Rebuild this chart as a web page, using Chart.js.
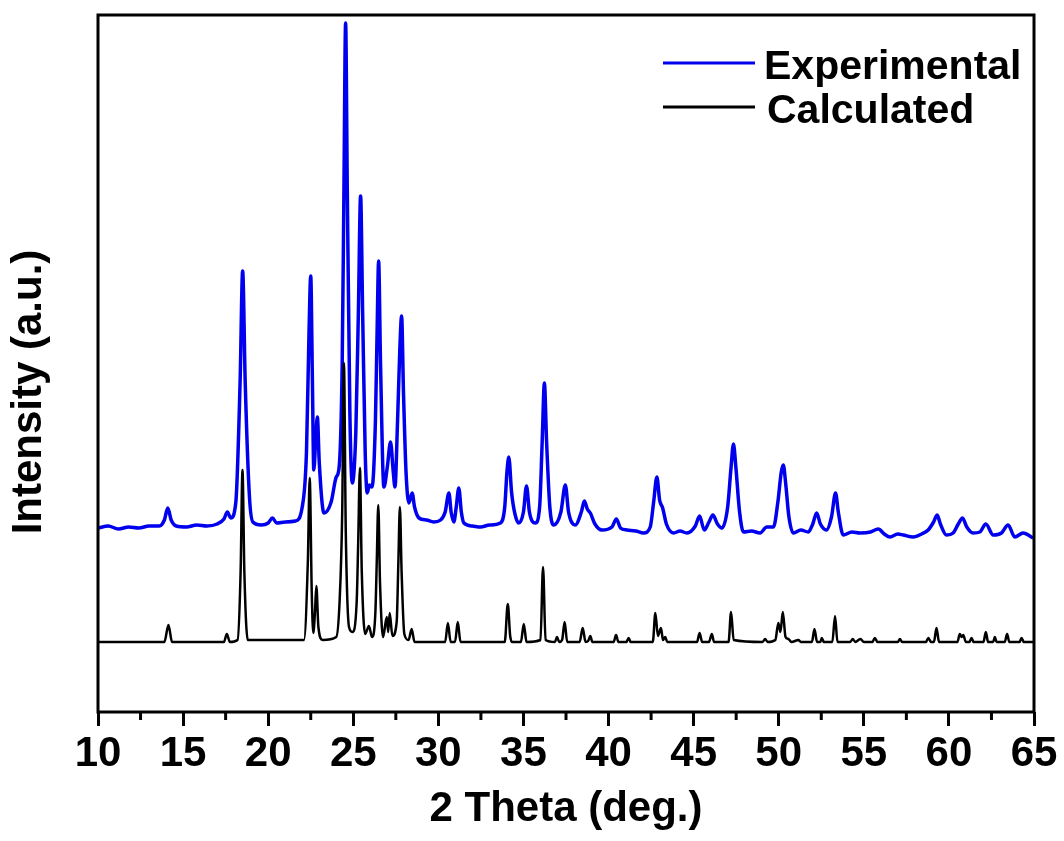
<!DOCTYPE html>
<html>
<head>
<meta charset="utf-8">
<script src="https://cdn.jsdelivr.net/npm/chart.js@4.4.1/dist/chart.umd.min.js"></script>
<style>
  html, body { margin: 0; padding: 0; background: #ffffff; }
  #wrap { width: 1064px; height: 841px; }
</style>
</head>
<body>
<div id="wrap"><canvas id="c" width="1064" height="841"></canvas></div>
<script>
// ---- Data (2θ in degrees, intensity in arbitrary units) ----
const seriesLabels = ['Experimental', 'Calculated'];

const expTheta = [
  10.0, 10.6, 11.2, 11.8, 12.4, 13.0, 13.6, 13.9, 14.1, 14.3, 14.6, 15.2, 15.8, 16.4, 17.0, 17.4, 17.6, 17.8,
  18.1, 18.35, 18.5, 18.65, 18.9, 19.1, 19.6, 20.0, 20.25, 20.5, 21.0, 21.6, 22.0, 22.25, 22.4, 22.5, 22.6,
  22.68, 22.8, 22.89, 23.0, 23.28, 23.7, 24.0, 24.17, 24.35, 24.45, 24.55, 24.65, 24.8, 24.94, 25.15, 25.3,
  25.43, 25.55, 25.7, 25.82, 25.95, 26.1, 26.3, 26.4, 26.49, 26.6, 26.8, 27.0, 27.19, 27.35, 27.45, 27.6,
  27.73, 27.84, 27.95, 28.1, 28.27, 28.46, 28.6, 28.86, 29.3, 29.72, 30.13, 30.4, 30.62, 30.75, 30.91, 31.05,
  31.2, 31.35, 31.5, 32.0, 32.48, 33.0, 33.65, 33.9, 34.03, 34.14, 34.3, 34.5, 34.72, 35.0, 35.18, 35.35,
  35.7, 35.95, 36.1, 36.23, 36.36, 36.55, 36.78, 37.2, 37.46, 37.65, 38.05, 38.4, 38.58, 38.75, 38.93, 39.2,
  39.61, 40.2, 40.46, 40.7, 41.08, 41.6, 42.06, 42.45, 42.65, 42.84, 43.0, 43.18, 43.4, 43.82, 44.2, 44.6,
  45.1, 45.35, 45.62, 45.9, 46.13, 46.4, 46.66, 47.0, 47.2, 47.34, 47.48, 47.7, 47.93, 48.4, 48.9, 49.3,
  49.69, 49.95, 50.15, 50.27, 50.4, 50.6, 50.86, 51.3, 51.74, 52.0, 52.23, 52.45, 52.81, 53.1, 53.34, 53.5,
  53.79, 54.3, 54.77, 55.4, 55.85, 56.2, 56.54, 57.0, 57.32, 57.9, 58.4, 58.78, 59.1, 59.31, 59.5, 59.86,
  60.25, 60.55, 60.8, 61.05, 61.42, 61.82, 62.17, 62.6, 63.09, 63.48, 63.87, 64.36, 64.95
];
const expIntensity = [
  184, 186, 183, 185, 184, 186, 186, 192, 204, 192, 186, 185, 187, 186, 188, 193, 200, 194,
  210, 330, 441, 330, 215, 190, 187, 189, 194, 189, 190, 191, 205, 260, 380, 436, 330,
  242, 275, 295, 250, 199, 210, 235, 245, 350, 520, 689, 520, 300, 229, 280, 400,
  516, 400, 260, 219, 227, 225, 290, 380, 451, 350, 225, 245, 270, 240, 225, 290,
  360, 396, 320, 240, 209, 219, 205, 194, 192, 190, 192, 200, 219, 200, 190, 205,
  224, 200, 189, 186, 185, 187, 189, 205, 240, 255, 220, 198, 189, 200, 226, 200,
  189, 205, 270, 329, 270, 205, 187, 200, 227, 200, 187, 200, 211, 203, 199, 188,
  182, 185, 193, 184, 182, 181, 179, 185, 210, 235, 212, 204, 188, 179, 181, 179,
  186, 196, 182, 190, 197, 188, 184, 205, 245, 268, 245, 200, 180, 181, 179, 185,
  185, 210, 240, 247, 230, 195, 179, 182, 180, 188, 199, 188, 182, 195, 219, 200,
  177, 180, 179, 180, 183, 178, 175, 178, 177, 175, 178, 182, 190, 197, 188, 177,
  179, 188, 194, 185, 179, 180, 188, 177, 179, 187, 175, 179, 174
];

const calcTheta = [
  10.0, 13.9, 14.14, 14.35, 17.4, 17.57, 17.75, 18.2, 18.38, 18.49, 18.6, 18.8, 22.1, 22.33, 22.44, 22.56,
  22.65, 22.75, 22.83, 22.95, 23.2, 24.0, 24.2, 24.35, 24.45, 24.56, 24.75, 24.95, 25.2, 25.29, 25.39, 25.5,
  25.7, 25.92, 26.1, 26.3, 26.38, 26.47, 26.57, 26.75, 26.97, 27.05, 27.14, 27.3, 27.55, 27.65, 27.74, 27.84,
  28.0, 28.25, 28.43, 28.6, 30.4, 30.56, 30.72, 30.98, 31.14, 31.3, 33.9, 34.08, 34.22, 34.35, 34.85, 35.02,
  35.18, 36.0, 36.15, 36.3, 36.85, 36.97, 37.1, 37.27, 37.42, 37.57, 38.3, 38.48, 38.65, 38.8, 38.93, 39.05,
  40.3, 40.44, 40.58, 41.05, 41.18, 41.3, 42.6, 42.75, 42.9, 43.08, 43.2, 43.33, 43.45, 45.2, 45.35, 45.5,
  45.9, 46.07, 46.2, 47.05, 47.2, 47.35, 49.05, 49.2, 49.35, 49.8, 49.98, 50.1, 50.24, 50.4, 50.57, 50.75,
  51.16, 51.3, 51.95, 52.1, 52.25, 52.45, 52.53, 52.65, 53.15, 53.31, 53.45, 54.2, 54.35, 54.5, 54.8, 55.0,
  55.5, 55.65, 55.8, 57.0, 57.12, 57.25, 58.65, 58.79, 58.95, 59.12, 59.27, 59.42, 60.5, 60.64, 60.75, 60.84,
  61.0, 61.2, 61.33, 61.45, 62.03, 62.17, 62.3, 62.6, 62.7, 62.8, 63.28, 63.42, 63.55, 64.15, 64.27, 64.4, 65.0
];
const calcIntensity = [
  70, 70, 87, 70, 70, 78, 70, 72, 140, 242, 140, 72, 72, 150, 234, 120,
  79, 100, 126, 85, 72, 75, 112, 200, 349, 180, 85, 80, 110, 170, 244, 140,
  78, 86, 75, 100, 150, 207, 130, 75, 95, 80, 99, 76, 90, 150, 205, 140,
  78, 72, 83, 70, 70, 89, 70, 70, 90, 70, 70, 108, 76, 70, 70, 88,
  70, 72, 145, 72, 70, 75, 70, 72, 90, 70, 70, 84, 70, 71, 76, 70,
  70, 77, 70, 70, 74, 70, 70, 99, 76, 84, 72, 75, 70, 70, 79, 70,
  70, 78, 70, 70, 100, 72, 70, 73, 70, 72, 89, 80, 100, 75, 73, 70,
  72, 70, 70, 83, 70, 70, 74, 70, 70, 96, 70, 70, 73, 70, 73, 70,
  70, 74, 70, 70, 73, 70, 70, 74, 70, 70, 84, 70, 70, 78, 75, 77,
  70, 70, 74, 70, 70, 80, 70, 70, 75, 70, 70, 78, 70, 70, 74, 70, 70
];

const xTickMin = 10, xTickMax = 65, xTickStep = 5, xMinorStep = 2.5;
const yRange = [0, 697];
const xTitle = '2 Theta (deg.)';
const yTitle = 'Intensity (a.u.)';
const seriesColors = ['#0000ee', '#000000'];

// ---- Chart ----
const FONT = '"Liberation Sans", Arial, Helvetica, sans-serif';

function toPoints(xs, ys) { return xs.map((x, i) => ({ x: x, y: ys[i] })); }

const framePlugin = {
  id: 'frameAndDecor',
  afterDraw(chart) {
    const { ctx, chartArea: a, scales } = chart;
    const xs = scales.x;
    ctx.save();
    // minor ticks
    ctx.strokeStyle = '#000';
    ctx.lineWidth = 3;
    ctx.beginPath();
    for (let v = xTickMin + xMinorStep; v < xTickMax; v += xTickStep) {
      const px = xs.getPixelForValue(v);
      ctx.moveTo(px, a.bottom);
      ctx.lineTo(px, a.bottom + 8);
    }
    ctx.stroke();
    // frame
    ctx.lineWidth = 3;
    ctx.strokeRect(a.left, a.top, a.right - a.left, a.bottom - a.top);
    // y title
    ctx.fillStyle = '#000';
    ctx.font = 'bold 42px ' + FONT;
    ctx.textAlign = 'center';
    ctx.textBaseline = 'middle';
    ctx.translate(29.5, 392);
    ctx.rotate(-Math.PI / 2);
    ctx.fillText(yTitle, 0, 0);
    ctx.restore();

    // legend (vertical list, top right)
    ctx.save();
    ctx.font = 'bold 41px ' + FONT;
    ctx.textAlign = 'left';
    ctx.textBaseline = 'alphabetic';
    const rows = [
      { lineY: 63, textX: 764, baseY: 79 },
      { lineY: 107, textX: 767, baseY: 123 }
    ];
    chart.data.datasets.forEach((ds, i) => {
      const r = rows[i];
      ctx.strokeStyle = ds.borderColor;
      ctx.lineWidth = 3;
      ctx.beginPath();
      ctx.moveTo(663, r.lineY);
      ctx.lineTo(755, r.lineY);
      ctx.stroke();
      ctx.fillStyle = '#000';
      ctx.fillText(ds.label, r.textX, r.baseY);
    });
    ctx.restore();
  }
};

new Chart(document.getElementById('c'), {
  type: 'line',
  data: {
    datasets: [
      {
        label: seriesLabels[0],
        data: toPoints(expTheta, expIntensity),
        borderColor: seriesColors[0],
        borderWidth: 3.5,
        pointRadius: 0,
        cubicInterpolationMode: 'monotone',
        fill: false,
        order: 1
      },
      {
        label: seriesLabels[1],
        data: toPoints(calcTheta, calcIntensity),
        borderColor: seriesColors[1],
        borderWidth: 2.5,
        pointRadius: 0,
        cubicInterpolationMode: 'monotone',
        fill: false,
        order: 0
      }
    ]
  },
  options: {
    responsive: false,
    animation: false,
    events: [],
    layout: { padding: { left: 98, right: 30, top: 15, bottom: 0 } },
    plugins: {
      legend: { display: false },
      tooltip: { enabled: false },
      title: { display: false }
    },
    scales: {
      x: {
        type: 'linear',
        min: xTickMin,
        max: xTickMax,
        border: { display: false },
        grid: {
          display: true,
          drawOnChartArea: false,
          drawTicks: true,
          tickLength: 14,
          tickWidth: 3,
          tickColor: '#000'
        },
        ticks: {
          stepSize: xTickStep,
          autoSkip: false,
          maxRotation: 0,
          padding: 3,
          color: '#000',
          font: { family: FONT, size: 42, weight: 'bold' }
        },
        title: {
          display: true,
          text: xTitle,
          color: '#000',
          font: { family: FONT, size: 42, weight: 'bold' },
          padding: { top: 0, bottom: 6 }
        },
        afterFit(scale) {
          scale.height = 129;
          scale.paddingLeft = 0;
          scale.paddingRight = 0;
        }
      },
      y: {
        type: 'linear',
        display: false,
        min: yRange[0],
        max: yRange[1]
      }
    }
  },
  plugins: [framePlugin]
});
</script>
</body>
</html>
